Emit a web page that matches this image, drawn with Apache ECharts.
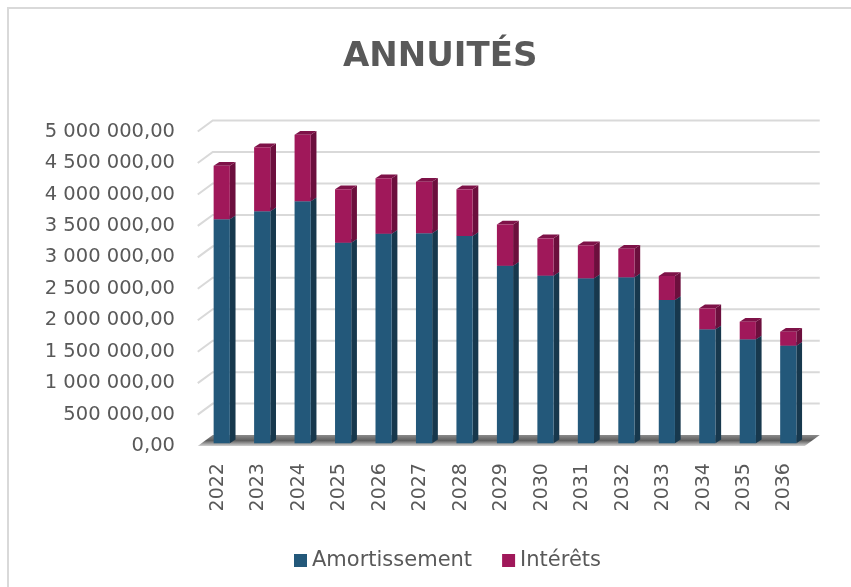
<!DOCTYPE html>
<html>
<head>
<meta charset="utf-8">
<style>
  html, body { margin: 0; padding: 0; background: #ffffff; }
  #chart { width: 851px; height: 587px; }
</style>
<script src="https://cdn.jsdelivr.net/npm/echarts@6/dist/echarts.min.js"></script>
</head>
<body>
<div id="chart"></div>
<script>
const years = ["2022", "2023", "2024", "2025", "2026", "2027", "2028", "2029",
  "2030", "2031", "2032", "2033", "2034", "2035", "2036"];

const amortissement = [3561000, 3688000, 3847000, 3189000, 3332000, 3339000, 3296000,
  2822000, 2665000, 2623000, 2639000, 2278000, 1812000, 1653000, 1552000];

const interets = [852000, 1018000, 1059000, 849000, 881000, 820000, 742000,
  657000, 594000, 525000, 455000, 382000, 334000, 280000, 222000];

const yTicks = [0, 500000, 1000000, 1500000, 2000000, 2500000, 3000000,
  3500000, 4000000, 4500000, 5000000];

// fake 3d: the grid is the front plane; bars sit a bit deeper, walls at the back
const BAR = [3.75, -2.75];
const BACK = [15, -11];
const SIDE = [5.7, -3.7];

const TEXT = "#595959";
const FONT = "DejaVu Sans";

function formatFr(v) {
  const s = Number(v).toFixed(2);
  const [int, dec] = s.split(".");
  return int.replace(/\B(?=(\d{3})+(?!\d))/g, " ") + "," + dec;
}

function wallsItem(params, api) {
  const cs = params.coordSys;
  const v = api.value(0);
  const y = api.coord([0, v])[1];
  const gx = cs.x;
  const gr = cs.x + cs.width;

  if (v === 0) {
    // floor slab
    return {
      type: "polygon",
      shape: {
        points: [
          [gx, y],
          [gx + BACK[0], y + BACK[1]],
          [gr + BACK[0], y + BACK[1]],
          [gr, y],
        ],
      },
      style: {
        fill: new echarts.graphic.LinearGradient(0, 0, 0, 1, [
          { offset: 0, color: "#8a8a8a" },
          { offset: 0.5, color: "#5e5e5e" },
          { offset: 1, color: "#d2d2d2" },
        ]),
      },
    };
  }

  return {
    type: "polyline",
    shape: {
      points: [
        [gx, y],
        [gx + BACK[0], y + BACK[1]],
        [gr + BACK[0], y + BACK[1]],
      ],
    },
    style: { stroke: "#d9d9d9", lineWidth: 2, fill: null },
  };
}

function boxItem(front, side, top) {
  return (params, api) => {
    const idx = api.value(0);
    const pLo = api.coord([idx, api.value(1)]);
    const pHi = api.coord([idx, api.value(2)]);
    const w = api.size([1, 0])[0] * 0.4;
    const x0 = pLo[0] - w / 2 + BAR[0];
    const x1 = x0 + w;
    const yb = pLo[1] + BAR[1];
    const yt = pHi[1] + BAR[1];

    return {
      type: "group",
      children: [
        {
          type: "polygon",
          shape: {
            points: [[x1, yb], [x1 + SIDE[0], yb + SIDE[1]],
              [x1 + SIDE[0], yt + SIDE[1]], [x1, yt]],
          },
          style: { fill: side },
        },
        {
          type: "polygon",
          shape: {
            points: [[x0, yt], [x1, yt],
              [x1 + SIDE[0], yt + SIDE[1]], [x0 + SIDE[0], yt + SIDE[1]]],
          },
          style: { fill: top },
        },
        {
          type: "rect",
          shape: { x: x0, y: yt, width: w, height: yb - yt },
          style: { fill: front },
        },
      ],
    };
  };
}

const amortData = years.map((y, i) => [i, 0, amortissement[i]]);
const interetsData = years.map((y, i) => [i, amortissement[i], amortissement[i] + interets[i]]);

const chart = echarts.init(document.getElementById("chart"));

chart.setOption({
  animation: false,
  backgroundColor: "#ffffff",

  title: {
    text: "ANNUITÉS",
    left: 338,
    top: 35,
    textStyle: { color: TEXT, fontFamily: FONT, fontSize: 34, fontWeight: "bold" },
  },

  legend: {
    data: ["Amortissement", "Intérêts"],
    left: 289,
    top: 545,
    icon: "rect",
    itemWidth: 13,
    itemHeight: 13,
    itemGap: 30,
    textStyle: { color: TEXT, fontFamily: FONT, fontSize: 21 },
  },

  graphic: [
    {
      type: "rect",
      shape: { x: 8, y: 8, width: 900, height: 700 },
      style: { fill: null, stroke: "#d9d9d9", lineWidth: 2 },
      z: 1,
    },
    {
      type: "text",
      x: 151,
      y: 0.5,
      style: { text: "p", fontFamily: FONT, fontSize: 19, fill: "#000000", verticalAlign: "bottom" },
    },
  ],

  grid: {
    left: 197.75,
    right: 46.25,
    top: 131.55,
    bottom: 140.95,
  },

  xAxis: {
    type: "category",
    data: years,
    axisLine: { show: false },
    axisTick: { show: false },
    axisLabel: {
      rotate: 90,
      margin: 17,
      color: TEXT,
      fontFamily: FONT,
      fontSize: 19,
    },
  },

  yAxis: {
    type: "value",
    min: 0,
    max: 5000000,
    interval: 500000,
    axisLine: { show: false },
    axisTick: { show: false },
    splitLine: { show: false },
    axisLabel: {
      margin: 22.75,
      color: TEXT,
      fontFamily: FONT,
      fontSize: 19.5,
      formatter: formatFr,
    },
  },

  series: [
    {
      type: "custom",
      name: "walls",
      data: yTicks.map((v) => [v]),
      encode: { y: 0 },
      renderItem: wallsItem,
      silent: true,
      z: 1,
    },
    {
      type: "custom",
      name: "Amortissement",
      data: amortData,
      encode: { x: 0, y: [1, 2] },
      itemStyle: { color: "#23587a" },
      renderItem: boxItem("#23587a", "#17384d", "#2b6a8f"),
      z: 3,
    },
    {
      type: "custom",
      name: "Intérêts",
      data: interetsData,
      encode: { x: 0, y: [1, 2] },
      itemStyle: { color: "#a0185a" },
      renderItem: boxItem("#a0185a", "#6c0f3d", "#7e1248"),
      z: 4,
    },
  ],
});
</script>
</body>
</html>
